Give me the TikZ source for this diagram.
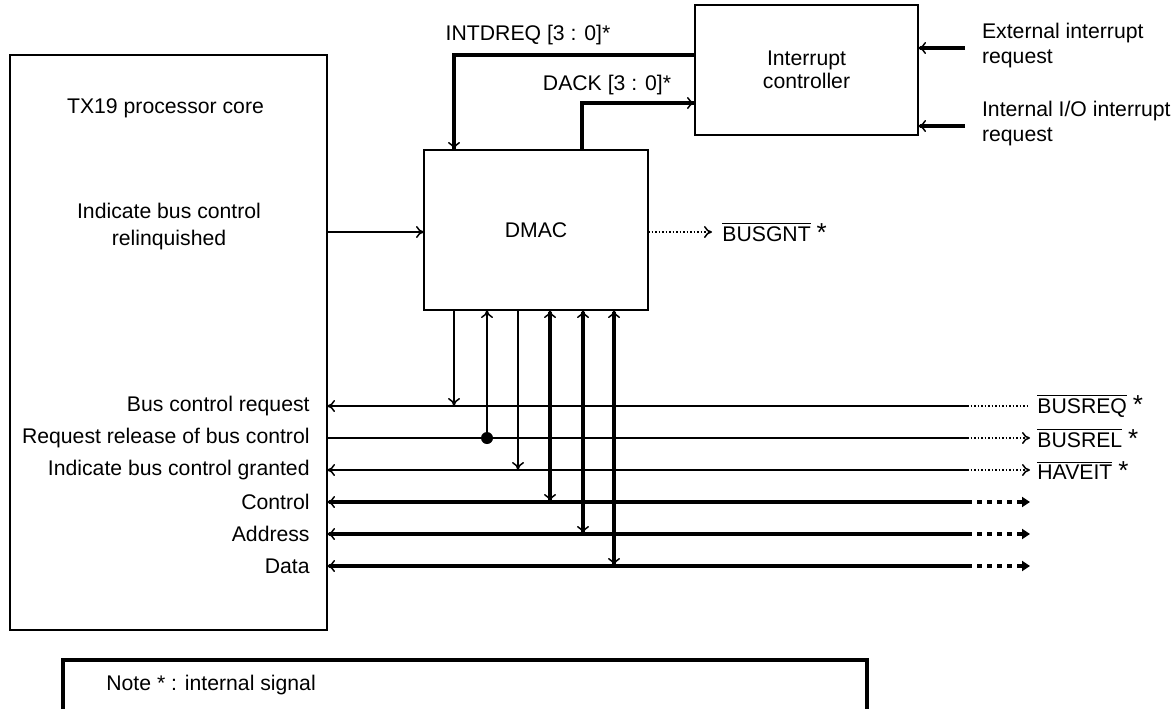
\documentclass[tikz,border=0pt]{standalone}
\usepackage{fontspec}
\setmainfont{Liberation Sans}
\usetikzlibrary{arrows.meta,positioning}
\tikzset{
  blk/.style={draw,line width=0.8pt,inner sep=0pt,outer sep=0pt,align=center},
  sig/.style={line width=0.75pt},
  bus/.style={line width=2pt},
  lbl/.style={inner sep=1pt},
  >={To[length=4pt,width=6pt,line width=0.75pt]}
}
\newcommand{\bigast}{{\fontsize{13}{13}\selectfont *}}
\begin{document}
\begin{tikzpicture}[x=0.5pt,y=-0.5pt,font=\fontsize{10.6}{12.5}\selectfont]
\useasboundingbox (0,0) rectangle (1176,708);
\node[blk,minimum width=158.5pt,minimum height=287.5pt] (core) at (168.5,342.5) {};
\node[blk,minimum width=112pt,minimum height=80pt] (dmac) at (536,230) {DMAC};
\node[blk,minimum width=111.5pt,minimum height=65pt,font=\fontsize{10.6}{11.5}\selectfont] (intc) at (806.5,70) {Interrupt\\controller};
\node (tx) at (165.5,108) {TX19 processor core};
\node[align=center,font=\fontsize{10.6}{13.5}\selectfont] (relq) at (169,227) {Indicate bus control\\relinquished};

\coordinate (yrel) at (0,232);
\draw[sig,->] (core.east |- yrel) -- (dmac.west |- yrel);
\coordinate (g) at (712,232);
\draw[sig,densely dotted,->] (dmac.east |- g) -- (g);
\node[lbl,right=4pt of g] (sgnt) {$\overline{\mbox{BUSGNT}}$ \bigast};

\coordinate (q) at (454,55);
\draw[bus,->] (intc.west |- q) -- (q) -- (dmac.north -| q);
\node (lintd) at (528,35) {INTDREQ [3 : 0]*};
\coordinate (k) at (582,103);
\draw[bus,->] (dmac.north -| k) -- (k) -- (intc.west |- k);
\node (ldack) at (607,85) {DACK [3 : 0]*};

\coordinate (x1) at (965,48);
\coordinate (x2) at (965,126);
\draw[bus,->] (x1) -- (intc.east |- x1);
\draw[bus,->] (x2) -- (intc.east |- x2);
\node[anchor=west,align=left] (lext) at (975,46) {External interrupt\\request};
\node[anchor=west,align=left] (lint) at (975,124) {Internal I/O interrupt\\request};

\foreach \n/\x/\y/\lab in {1/454/406/Bus control request,2/487/438/Request release of bus control,3/518/470/Indicate bus control granted,4/550/502/Control,5/583/534/Address,6/614/566/Data}{
  \coordinate (c\n) at (\x,\y);
  \coordinate (r\n) at (967,\y);
  \coordinate (e\n) at (1030,\y);
  \node[lbl,anchor=east,xshift=-7.5pt] (l\n) at (core.east |- r\n) {\lab};
}

\draw[sig,<-] (core.east |- r1) -- (r1);
\draw[sig,densely dotted] (r1) -- (e1);
\draw[sig] (core.east |- r2) -- (r2);
\draw[sig,densely dotted,->] (r2) -- (e2);
\draw[sig,<-] (core.east |- r3) -- (r3);
\draw[sig,densely dotted,->] (r3) -- (e3);
\foreach \n in {4,5,6}{
  \draw[bus,<-] (core.east |- r\n) -- (r\n);
  \draw[bus,dash pattern=on 2.5pt off 2.5pt,-{Triangle[length=4pt,width=5pt]}] (r\n) -- (e\n);
}
\node[lbl,right=2.5pt of e1] (sreq) {$\overline{\mbox{BUSREQ}}$ \bigast};
\node[lbl,right=2.5pt of e2] (srel) {$\overline{\mbox{BUSREL}}$ \bigast};
\node[lbl,right=2.5pt of e3] (shav) {$\overline{\mbox{HAVEIT}}$ \bigast};

\draw[sig,->] (dmac.south -| c1) -- (c1);
\draw[sig,->] (c2) -- (dmac.south -| c2);
\fill (c2) circle (3pt);
\draw[sig,->] (dmac.south -| c3) -- (c3);
\foreach \n in {4,5,6}
  \draw[bus,<->] (dmac.south -| c\n) -- (c\n);

\node[blk,line width=2pt,minimum width=402pt,minimum height=32pt] (note) at (465,692) {};
\node[anchor=west,lbl] (lnote) at (104,685) {Note * : internal signal};
\end{tikzpicture}
\end{document}
